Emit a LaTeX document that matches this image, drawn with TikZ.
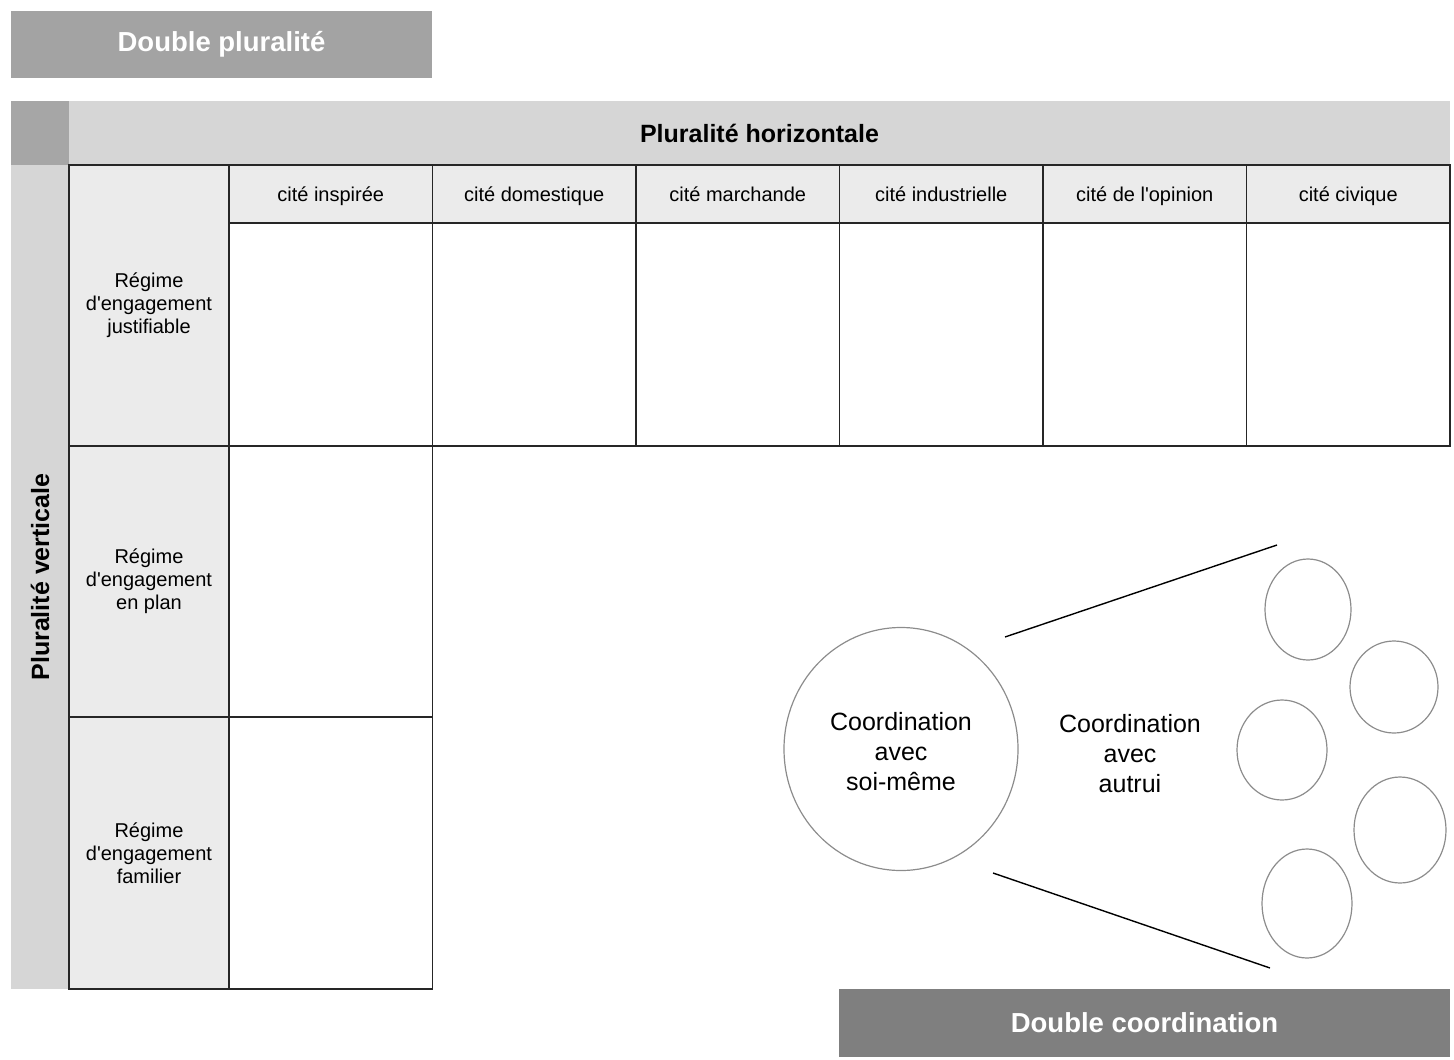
\documentclass[tikz,border=0pt]{standalone}
\usepackage{fontspec}
\setmainfont{Liberation Sans}
\usetikzlibrary{shapes.geometric}
\definecolor{boxgray}{HTML}{A3A3A3}
\definecolor{cornergray}{HTML}{A6A6A6}
\definecolor{bargray}{HTML}{D6D6D6}
\definecolor{cellgray}{HTML}{EBEBEB}
\definecolor{darkbox}{HTML}{7F7F7F}
\definecolor{ringgray}{HTML}{8C8C8C}
\tikzset{
  titlebox/.style={rectangle, fill=boxgray, inner sep=0pt, outer sep=0pt, text=white, font=\fontsize{27.5}{30}\selectfont\bfseries},
  barbox/.style={rectangle, fill=bargray, inner sep=0pt, outer sep=0pt, font=\fontsize{25}{28}\selectfont\bfseries},
  hdrcell/.style={rectangle, draw=black!85, line width=1.4pt, fill=cellgray, inner sep=0pt, outer sep=0pt, minimum width=203.5pt, minimum height=58pt, text height=17pt, text depth=2.5pt, font=\fontsize{20}{23}\selectfont},
  emptycell/.style={rectangle, draw=black!85, line width=1.4pt, fill=white, inner sep=0pt, outer sep=0pt, minimum width=203.5pt},
  rowcell/.style={rectangle, draw=black!85, line width=1.4pt, fill=cellgray, inner sep=0pt, outer sep=0pt, minimum width=160pt, align=center, font=\fontsize{20}{23}\selectfont},
  ring/.style={ellipse, draw=ringgray, line width=1.2pt, inner sep=0pt, outer sep=0pt},
  coordtext/.style={align=center, font=\fontsize{25}{30}\selectfont},
  fanline/.style={draw=black, line width=1.4pt}
}
\begin{document}
\begin{tikzpicture}[x=1pt,y=-1pt]
\useasboundingbox (0,0) rectangle (1454,1060);
% title boxes
\node[titlebox, minimum width=421pt, minimum height=67pt] (dp) at (221.5,44.5) {Double pluralité};
\node[titlebox, fill=darkbox, minimum width=611pt, minimum height=68pt] (dc) at (1144.5,1023) {Double coordination};
% header bars
\node[rectangle, fill=cornergray, inner sep=0pt, outer sep=0pt, minimum width=58pt, minimum height=64pt] (corner) at (40,133) {};
\node[barbox, minimum width=1381pt, minimum height=64pt] (ph) at (759.5,133) {Pluralité horizontale};
\node[barbox, minimum width=58pt, minimum height=824pt] (pvbar) at (40,577) {};
\node[font=\fontsize{25}{28}\selectfont\bfseries, rotate=90] (pv) at (40,577) {Pluralité verticale};
% column headers
\node[hdrcell] (h1) at (330.75,194) {cité inspirée};
\node[hdrcell] (h2) at (534.25,194) {cité domestique};
\node[hdrcell] (h3) at (737.75,194) {cité marchande};
\node[hdrcell] (h4) at (941.25,194) {cité industrielle};
\node[hdrcell] (h5) at (1144.75,194) {cité de l\textquotesingle opinion};
\node[hdrcell] (h6) at (1348.25,194) {cité civique};
% first row cells
\node[emptycell, minimum height=223pt] (r1c1) at (330.75,334.5) {};
\node[emptycell, minimum height=223pt] (r1c2) at (534.25,334.5) {};
\node[emptycell, minimum height=223pt] (r1c3) at (737.75,334.5) {};
\node[emptycell, minimum height=223pt] (r1c4) at (941.25,334.5) {};
\node[emptycell, minimum height=223pt] (r1c5) at (1144.75,334.5) {};
\node[emptycell, minimum height=223pt] (r1c6) at (1348.25,334.5) {};
% other rows first column
\node[emptycell, minimum height=271pt] (r2c1) at (330.75,581.5) {};
\node[emptycell, minimum height=272pt] (r3c1) at (330.75,853) {};
% row headers
\node[rowcell, minimum height=281pt] (rj) at (149,305.5) {Régime\\d\textquotesingle engagement\\justifiable};
\node[rowcell, minimum height=271pt] (rp) at (149,581.5) {Régime\\d\textquotesingle engagement\\en plan};
\node[rowcell, minimum height=272pt] (rf) at (149,853) {Régime\\d\textquotesingle engagement\\familier};
% coordination
\node[ring, minimum width=234pt, minimum height=243pt] (self) at (901,749) {};
\node[coordtext] (selft) at (901,752) {Coordination\\avec\\soi-même};
\node[coordtext] (other) at (1130,754) {Coordination\\avec\\autrui};
\node[ring, minimum width=86pt, minimum height=101pt] (e1) at (1308,609.5) {};
\node[ring, minimum width=88pt, minimum height=92pt] (e2) at (1394,687) {};
\node[ring, minimum width=90pt, minimum height=100pt] (e3) at (1282,750) {};
\node[ring, minimum width=92pt, minimum height=106pt] (e4) at (1400,830) {};
\node[ring, minimum width=90pt, minimum height=109pt] (e5) at (1307,903.5) {};
\coordinate (t1) at (1005,637);
\coordinate (t2) at (1277,545);
\coordinate (b1) at (993,873);
\coordinate (b2) at (1270,968);
\draw[fanline] (t1) -- (t2);
\draw[fanline] (b1) -- (b2);
\end{tikzpicture}
\end{document}
